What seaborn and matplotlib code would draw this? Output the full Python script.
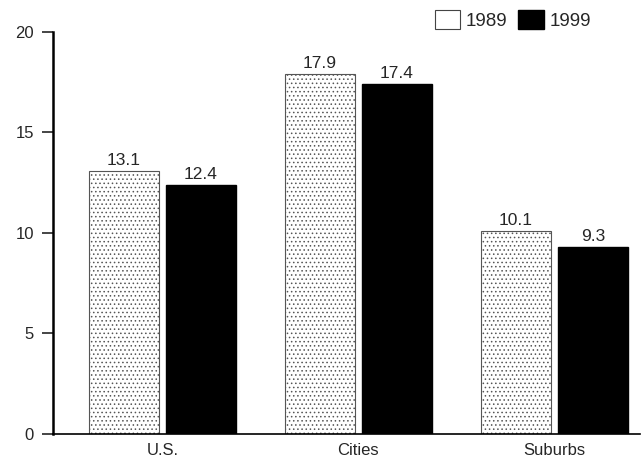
import numpy as np
import pandas as pd
import matplotlib
matplotlib.use("Agg")
import matplotlib.pyplot as plt
import seaborn as sns
from matplotlib.patches import Patch

# Chart data
areas = ["U.S.", "Cities", "Suburbs"]
years = ["1989", "1999"]
values_1989 = [13.1, 17.9, 10.1]
values_1999 = [12.4, 17.4, 9.3]

df = pd.DataFrame({
    "area": areas * 2,
    "year": [years[0]] * 3 + [years[1]] * 3,
    "value": values_1989 + values_1999,
})

sns.set_style("white")
plt.rcParams["font.family"] = ["Liberation Sans", "DejaVu Sans"]
plt.rcParams["hatch.color"] = "#a0a0a0"
plt.rcParams["hatch.linewidth"] = 0.6

fig = plt.figure(figsize=(6.41, 4.62), dpi=100)
ax = fig.add_axes([0.083, 0.061, 0.915, 0.870])

sns.barplot(data=df, x="area", y="value", hue="year", order=areas,
            hue_order=years, palette=["white", "black"], width=0.786,
            gap=0.09, saturation=1, ax=ax, legend=False)

# 1989 bars stippled white, 1999 bars solid black
for i, bar in enumerate(ax.patches):
    if i < 3:
        bar.set_facecolor("white")
        bar.set_edgecolor("#555555")
        bar.set_linewidth(0.8)
        bar.set_hatch("....")
    else:
        bar.set_facecolor("black")
        bar.set_edgecolor("black")

for cont in ax.containers:
    ax.bar_label(cont, fmt="%.1f", padding=2, fontsize=12.5)

ax.set_ylim(0, 20)
ax.set_xlim(-0.556, 2.434)
ax.set_yticks([0, 5, 10, 15, 20])
ax.set_xlabel("")
ax.set_ylabel("")
ax.tick_params(axis="y", left=True, length=8, width=1.2, labelsize=12, pad=6)
ax.tick_params(axis="x", bottom=False, labelsize=12, pad=3)
sns.despine(ax=ax, top=True, right=True)
ax.spines["left"].set_linewidth(1.8)
ax.spines["bottom"].set_linewidth(1.2)
ax.spines["left"].set_color("black")
ax.spines["bottom"].set_color("black")

# legend above the plot area
handles = [Patch(facecolor="white", edgecolor="#444444", linewidth=0.8),
           Patch(facecolor="black", edgecolor="black")]
fig.legend(handles, years, loc="center", bbox_to_anchor=(0.80, 0.957),
           ncol=2, frameon=False, fontsize=13.5, handlelength=1.35,
           handleheight=1.15, handletextpad=0.3, columnspacing=0.6)

fig.savefig("out.png", dpi=100)
